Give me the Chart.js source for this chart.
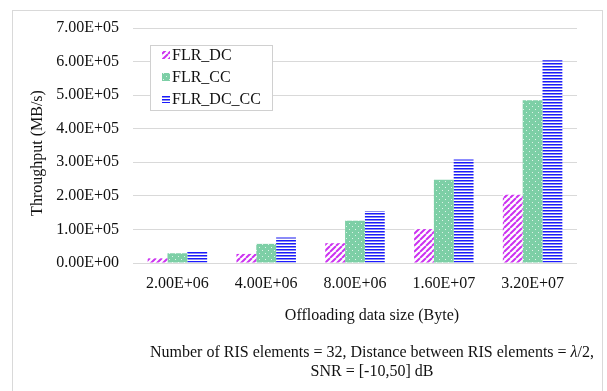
<!DOCTYPE html>
<html lang="en">
<head>
<meta charset="UTF-8">
<title>Throughput vs offloading data size</title>
<script src="https://cdn.jsdelivr.net/npm/chart.js"></script>
<style>
  html, body { margin: 0; background: #fff; }
  #wrap { position: relative; width: 607px; height: 391px; }
</style>
</head>
<body>
<div id="wrap"><canvas id="chart"></canvas></div>
<script>
// offloading data sizes (bytes) on the x axis
const sizes = ['2.00E+06', '4.00E+06', '8.00E+06', '1.60E+07', '3.20E+07']

// throughput in MB/s for each scheme
const flrDC = [14000, 27000, 59000, 101000, 203000]
const flrCC = [29000, 57000, 126000, 248000, 485000]
const flrDCCC = [34000, 76000, 155000, 308000, 604000]

const yMax = 700000
const yStep = 100000

const xTitle = 'Offloading data size (Byte)'
const yTitle = 'Throughput (MB/s)'
const noteLines = [
  ['Number of RIS elements = 32, Distance between RIS elements = ', 'λ', '/2,'],
  ['SNR = [-10,50] dB']
]

const serif = '"Liberation Serif", "Times New Roman", serif'
const ink = '#111'

// 7.00E+05 style labels
function sciLabel(v) {
  const [m, e] = Number(v).toExponential(2).split('e')
  return m + 'E' + e[0] + e.slice(1).padStart(2, '0')
}

function makePattern(w, h, draw) {
  const c = document.createElement('canvas')
  c.width = w
  c.height = h
  const g = c.getContext('2d')
  draw(g)
  return g.createPattern(c, 'repeat')
}

// magenta upward diagonal hatch
const dcFill = makePattern(6, 6, g => {
  g.fillStyle = '#fff'
  g.fillRect(0, 0, 6, 6)
  g.strokeStyle = '#cc33f0'
  g.lineWidth = 2
  g.beginPath()
  for (let k = -6; k <= 6; k += 6) {
    g.moveTo(k, 6)
    g.lineTo(k + 6, 0)
  }
  g.stroke()
})

// green with small light dots
const ccFill = makePattern(6, 6, g => {
  g.fillStyle = '#7dcfa6'
  g.fillRect(0, 0, 6, 6)
  g.fillStyle = 'rgba(255,255,255,0.75)'
  g.fillRect(1, 1, 1, 1)
  g.fillRect(4, 4, 1, 1)
})

// blue narrow horizontal stripes
const dcccFill = makePattern(4, 3, g => {
  g.fillStyle = '#ffffff'
  g.fillRect(0, 0, 4, 3)
  g.fillStyle = '#1a1aff'
  g.fillRect(0, 0, 4, 1)
  g.fillStyle = '#8c8cec'
  g.fillRect(0, 1, 4, 1)
})

const frame = {
  id: 'frame',
  beforeDraw(chart) {
    const ctx = chart.ctx
    ctx.save()
    ctx.strokeStyle = '#d9d9d9'
    ctx.lineWidth = 1
    ctx.strokeRect(12.5, 10.5, 590, 390)
    ctx.restore()
  }
}

const boxLegend = {
  id: 'boxLegend',
  afterDraw(chart) {
    const ctx = chart.ctx
    ctx.save()
    ctx.fillStyle = '#fff'
    ctx.strokeStyle = '#d0d0d0'
    ctx.lineWidth = 1
    ctx.fillRect(150.5, 45.5, 122, 65)
    ctx.strokeRect(150.5, 45.5, 122, 65)
    ctx.font = '16px ' + serif
    ctx.textBaseline = 'middle'
    chart.data.datasets.forEach((ds, i) => {
      const y = 55 + i * 22
      ctx.fillStyle = ds.backgroundColor
      ctx.fillRect(162, y - 4, 8, 8)
      ctx.fillStyle = ink
      ctx.fillText(ds.label, 172, y + 1)
    })
    ctx.restore()
  }
}

// axis titles and the parameter note below the x axis
const titles = {
  id: 'titles',
  afterDraw(chart) {
    const ctx = chart.ctx
    const cx = 372
    ctx.save()
    ctx.fillStyle = ink
    ctx.textBaseline = 'middle'
    ctx.textAlign = 'left'
    const put = (parts, y) => {
      const fonts = parts.map((p, i) => (i === 1 ? 'italic ' : '') + '16px ' + serif)
      const widths = parts.map((p, i) => { ctx.font = fonts[i]; return ctx.measureText(p).width })
      let x = cx - widths.reduce((a, b) => a + b, 0) / 2
      parts.forEach((p, i) => {
        ctx.font = fonts[i]
        ctx.fillText(p, x, y)
        x += widths[i]
      })
    }
    put([xTitle], 316)
    put(noteLines[0], 353)
    put(noteLines[1], 372)

    ctx.save()
    ctx.translate(38, 153)
    ctx.rotate(-Math.PI / 2)
    ctx.font = '16px ' + serif
    ctx.textAlign = 'center'
    ctx.fillText(yTitle, 0, 0)
    ctx.restore()
    ctx.restore()
  }
}

new Chart(document.getElementById('chart'), {
  type: 'bar',
  data: {
    labels: sizes,
    datasets: [
      { label: 'FLR_DC', data: flrDC, backgroundColor: dcFill },
      { label: 'FLR_CC', data: flrCC, backgroundColor: ccFill },
      { label: 'FLR_DC_CC', data: flrDCCC, backgroundColor: dcccFill }
    ]
  },
  options: {
    responsive: true,
    maintainAspectRatio: false,
    animation: false,
    categoryPercentage: 0.67,
    barPercentage: 1,
    layout: { padding: { top: 28, right: 30, left: 0, bottom: 0 } },
    plugins: {
      legend: { display: false },
      tooltip: { enabled: false }
    },
    scales: {
      x: {
        grid: { display: false, drawTicks: false },
        border: { display: false },
        ticks: { color: ink, font: { family: serif, size: 16 }, padding: 11 },
        afterFit: s => { s.height = 128 }
      },
      y: {
        min: 0,
        max: yMax,
        grid: { color: '#d9d9d9', drawTicks: false },
        border: { display: false },
        ticks: {
          stepSize: yStep,
          callback: sciLabel,
          color: ink,
          font: { family: serif, size: 16 },
          padding: 14
        },
        afterFit: s => { s.width = 133 }
      }
    }
  },
  plugins: [frame, boxLegend, titles]
})
</script>
</body>
</html>
